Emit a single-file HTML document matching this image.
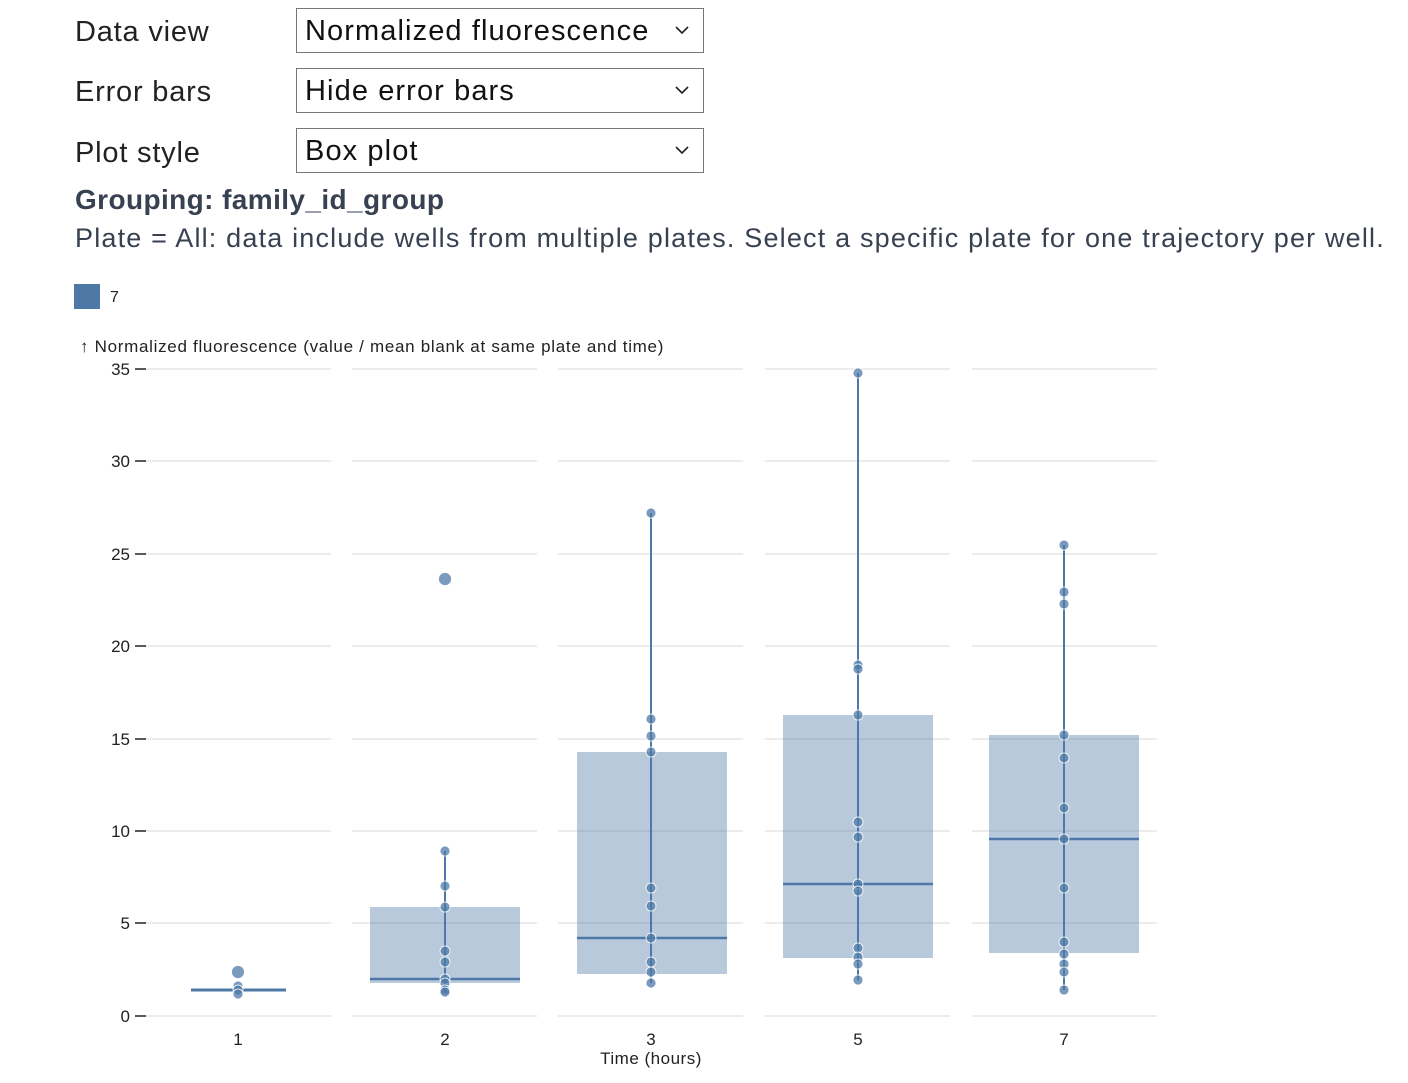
<!DOCTYPE html>
<html><head><meta charset="utf-8"><style>
body{margin:0;background:#fff;width:1408px;height:1083px;position:relative;font-family:"Liberation Sans","DejaVu Sans",sans-serif;color:#1f2937;overflow:hidden}
.lbl{position:absolute;left:75px;font-size:29px;color:#222;letter-spacing:0.8px}
.sel{position:absolute;left:296px;width:408px;height:45px;border:1px solid #777;box-sizing:border-box;font-size:29px;line-height:45px;padding-left:8px;color:#111;letter-spacing:1.1px}
.sel svg{position:absolute;right:14px;top:16px}
</style></head><body>
<div class="lbl" style="top:16px">Data view</div>
<div class="sel" style="top:8px">Normalized fluorescence<svg width="14" height="10"><polyline points="1,2 7,8 13,2" fill="none" stroke="#222" stroke-width="1.6"/></svg></div>
<div class="lbl" style="top:76px">Error bars</div>
<div class="sel" style="top:68px">Hide error bars<svg width="14" height="10"><polyline points="1,2 7,8 13,2" fill="none" stroke="#222" stroke-width="1.6"/></svg></div>
<div class="lbl" style="top:137px">Plot style</div>
<div class="sel" style="top:128px">Box plot<svg width="14" height="10"><polyline points="1,2 7,8 13,2" fill="none" stroke="#222" stroke-width="1.6"/></svg></div>
<div style="position:absolute;left:75px;top:184px;font-size:28px;font-weight:bold;color:#374151;letter-spacing:0.4px">Grouping: family_id_group</div>
<div style="position:absolute;left:75px;top:223px;font-size:27px;color:#374151;white-space:nowrap;letter-spacing:1.18px">Plate = All: data include wells from multiple plates. Select a specific plate for one trajectory per well.</div>
<svg width="1408" height="1083" style="position:absolute;left:0;top:0" font-family="Liberation Sans, DejaVu Sans, sans-serif">
<rect x="74" y="284" width="26" height="25" fill="#4e79a7"/>
<text x="110" y="302" font-size="16" fill="#222">7</text>
<text x="80" y="352" font-size="17" fill="#222" letter-spacing="0.7">↑ Normalized fluorescence (value / mean blank at same plate and time)</text>
<g stroke="#e5e5e5" stroke-width="1.5">
<g id="gl">
<line x1="146" x2="331" y1="369" y2="369"/><line x1="146" x2="331" y1="461" y2="461"/><line x1="146" x2="331" y1="554" y2="554"/><line x1="146" x2="331" y1="646" y2="646"/><line x1="146" x2="331" y1="739" y2="739"/><line x1="146" x2="331" y1="831" y2="831"/><line x1="146" x2="331" y1="923" y2="923"/><line x1="146" x2="331" y1="1016" y2="1016"/>
</g>
<use href="#gl" x="206"/><use href="#gl" x="412"/><use href="#gl" x="619"/><use href="#gl" x="826"/>
</g>
<g font-size="17" fill="#222" text-anchor="end">
<text x="130" y="375">35</text><text x="130" y="467">30</text><text x="130" y="560">25</text><text x="130" y="652">20</text><text x="130" y="745">15</text><text x="130" y="837">10</text><text x="130" y="929">5</text><text x="130" y="1022">0</text>
</g>
<g stroke="#222" stroke-width="1.5">
<line x1="135" x2="146" y1="369" y2="369"/><line x1="135" x2="146" y1="461" y2="461"/><line x1="135" x2="146" y1="554" y2="554"/><line x1="135" x2="146" y1="646" y2="646"/><line x1="135" x2="146" y1="739" y2="739"/><line x1="135" x2="146" y1="831" y2="831"/><line x1="135" x2="146" y1="923" y2="923"/><line x1="135" x2="146" y1="1016" y2="1016"/>
</g>
<g font-size="17" fill="#222" text-anchor="middle">
<text x="238" y="1045">1</text><text x="445" y="1045">2</text><text x="651" y="1045">3</text><text x="858" y="1045">5</text><text x="1064" y="1045">7</text>
<text x="651" y="1064" letter-spacing="0.5">Time (hours)</text>
</g>
<g fill="#4e79a7" fill-opacity="0.4">
<rect x="370" y="907" width="150" height="76"/>
<rect x="577" y="752" width="150" height="222"/>
<rect x="783" y="715" width="150" height="243"/>
<rect x="989" y="735" width="150" height="218"/>
</g>
<g stroke="#4e79a7" stroke-width="2.5">
<line x1="191" x2="286" y1="990" y2="990" stroke-width="3"/>
<line x1="370" x2="520" y1="979" y2="979"/><line x1="445" x2="445" y1="851" y2="992" stroke-width="2"/>
<line x1="577" x2="727" y1="938" y2="938"/><line x1="651" x2="651" y1="513" y2="983" stroke-width="2"/>
<line x1="783" x2="933" y1="884" y2="884"/><line x1="858" x2="858" y1="373" y2="980" stroke-width="2"/>
<line x1="989" x2="1139" y1="839" y2="839"/><line x1="1064" x2="1064" y1="545" y2="990" stroke-width="2"/>
</g>
<g fill="#4e79a7" fill-opacity="0.75" stroke="#fff" stroke-width="0.8">
<circle cx="238" cy="972" r="6.5"/><circle cx="238" cy="986" r="5"/><circle cx="238" cy="990" r="5"/><circle cx="238" cy="994" r="5"/>
<circle cx="445" cy="579" r="6.5"/>
<circle cx="445" cy="851" r="5"/><circle cx="445" cy="886" r="5"/><circle cx="445" cy="907" r="5"/><circle cx="445" cy="951" r="5"/><circle cx="445" cy="962" r="5"/><circle cx="445" cy="979" r="5"/><circle cx="445" cy="983" r="5"/><circle cx="445" cy="990" r="5"/><circle cx="445" cy="992" r="5"/>
<circle cx="651" cy="513" r="5"/><circle cx="651" cy="719" r="5"/><circle cx="651" cy="736" r="5"/><circle cx="651" cy="752" r="5"/><circle cx="651" cy="888" r="5"/><circle cx="651" cy="906" r="5"/><circle cx="651" cy="938" r="5"/><circle cx="651" cy="962" r="5"/><circle cx="651" cy="972" r="5"/><circle cx="651" cy="983" r="5"/>
<circle cx="858" cy="373" r="5"/><circle cx="858" cy="665" r="5"/><circle cx="858" cy="669" r="5"/><circle cx="858" cy="715" r="5"/><circle cx="858" cy="822" r="5"/><circle cx="858" cy="837" r="5"/><circle cx="858" cy="884" r="5"/><circle cx="858" cy="891" r="5"/><circle cx="858" cy="948" r="5"/><circle cx="858" cy="957" r="5"/><circle cx="858" cy="964" r="5"/><circle cx="858" cy="980" r="5"/>
<circle cx="1064" cy="545" r="5"/><circle cx="1064" cy="592" r="5"/><circle cx="1064" cy="604" r="5"/><circle cx="1064" cy="735" r="5"/><circle cx="1064" cy="758" r="5"/><circle cx="1064" cy="808" r="5"/><circle cx="1064" cy="839" r="5"/><circle cx="1064" cy="888" r="5"/><circle cx="1064" cy="942" r="5"/><circle cx="1064" cy="954" r="5"/><circle cx="1064" cy="964" r="5"/><circle cx="1064" cy="972" r="5"/><circle cx="1064" cy="990" r="5"/>
</g>
</svg>
</body></html>
